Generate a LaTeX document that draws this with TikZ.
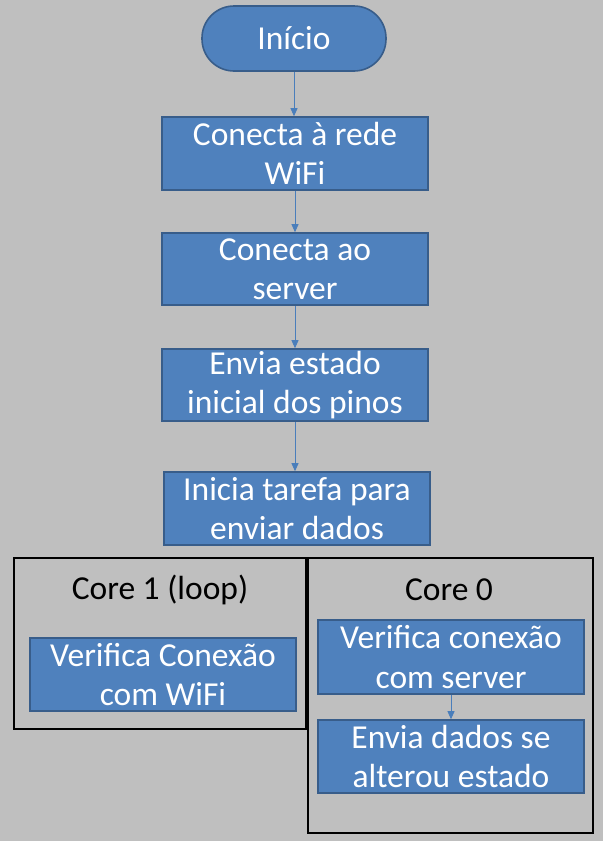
\documentclass[tikz,border=0pt]{standalone}
\usepackage{fontspec}
\setmainfont{Carlito}
\usetikzlibrary{arrows.meta}
\definecolor{bg}{RGB}{191,191,191}
\definecolor{boxfill}{RGB}{79,129,189}
\definecolor{boxline}{RGB}{56,93,138}
\definecolor{arr}{RGB}{74,126,187}
\begin{document}
\begin{tikzpicture}[x=1pt,y=-1pt,
  proc/.style={draw=boxline,line width=1.6pt,fill=boxfill,text=white,align=center,
    font=\fontsize{33.5}{39.5}\selectfont,inner sep=0pt},
  frame/.style={draw=black,line width=2.6pt},
  conn/.style={draw=arr,line width=0.8pt,-{Triangle[width=7pt,length=8pt]}},
  lbl/.style={font=\fontsize{33.5}{39.5}\selectfont,text=black}]
\fill[bg] (0,0) rectangle (603,841);
\useasboundingbox (0,0) rectangle (603,841);
% start
\node[proc,rounded corners=32pt,minimum width=184pt,minimum height=65pt] (start) at (294,38.5) {Início};
\node[proc,minimum width=266pt,minimum height=73pt] (b1) at (295,153.5) {Conecta à rede\\WiFi};
\node[proc,minimum width=266pt,minimum height=72pt] (b2) at (295,269) {Conecta ao\\server};
\node[proc,minimum width=266pt,minimum height=72pt] (b3) at (295,385) {Envia estado\\inicial dos pinos};
\node[proc,minimum width=266pt,minimum height=73pt] (b4) at (297,508.5) {Inicia tarefa para\\enviar dados};
% frames
\draw[frame] (14,558) rectangle (306,729);
\draw[frame] (308,558) rectangle (593,833);
\node[lbl] (c1) at (160,590) {Core 1 (loop)};
\node[lbl] (c0) at (449,590) {Core 0};
\node[proc,minimum width=266pt,minimum height=73pt] (w) at (163,674.5) {Verifica Conexão\\com WiFi};
\node[proc,minimum width=266pt,minimum height=74pt] (s1) at (451,657) {Verifica conexão\\com server};
\node[proc,minimum width=266pt,minimum height=73pt] (s2) at (451,756.5) {Envia dados se\\alterou estado};
% connectors
\draw[conn] (start.south) -- (start.south |- b1.north);
\draw[conn] (b1.south) -- (b1.south |- b2.north);
\draw[conn] (b2.south) -- (b2.south |- b3.north);
\draw[conn] (b3.south) -- (b3.south |- b4.north);
\draw[conn] (s1.south) -- (s2.north);
\end{tikzpicture}
\end{document}
